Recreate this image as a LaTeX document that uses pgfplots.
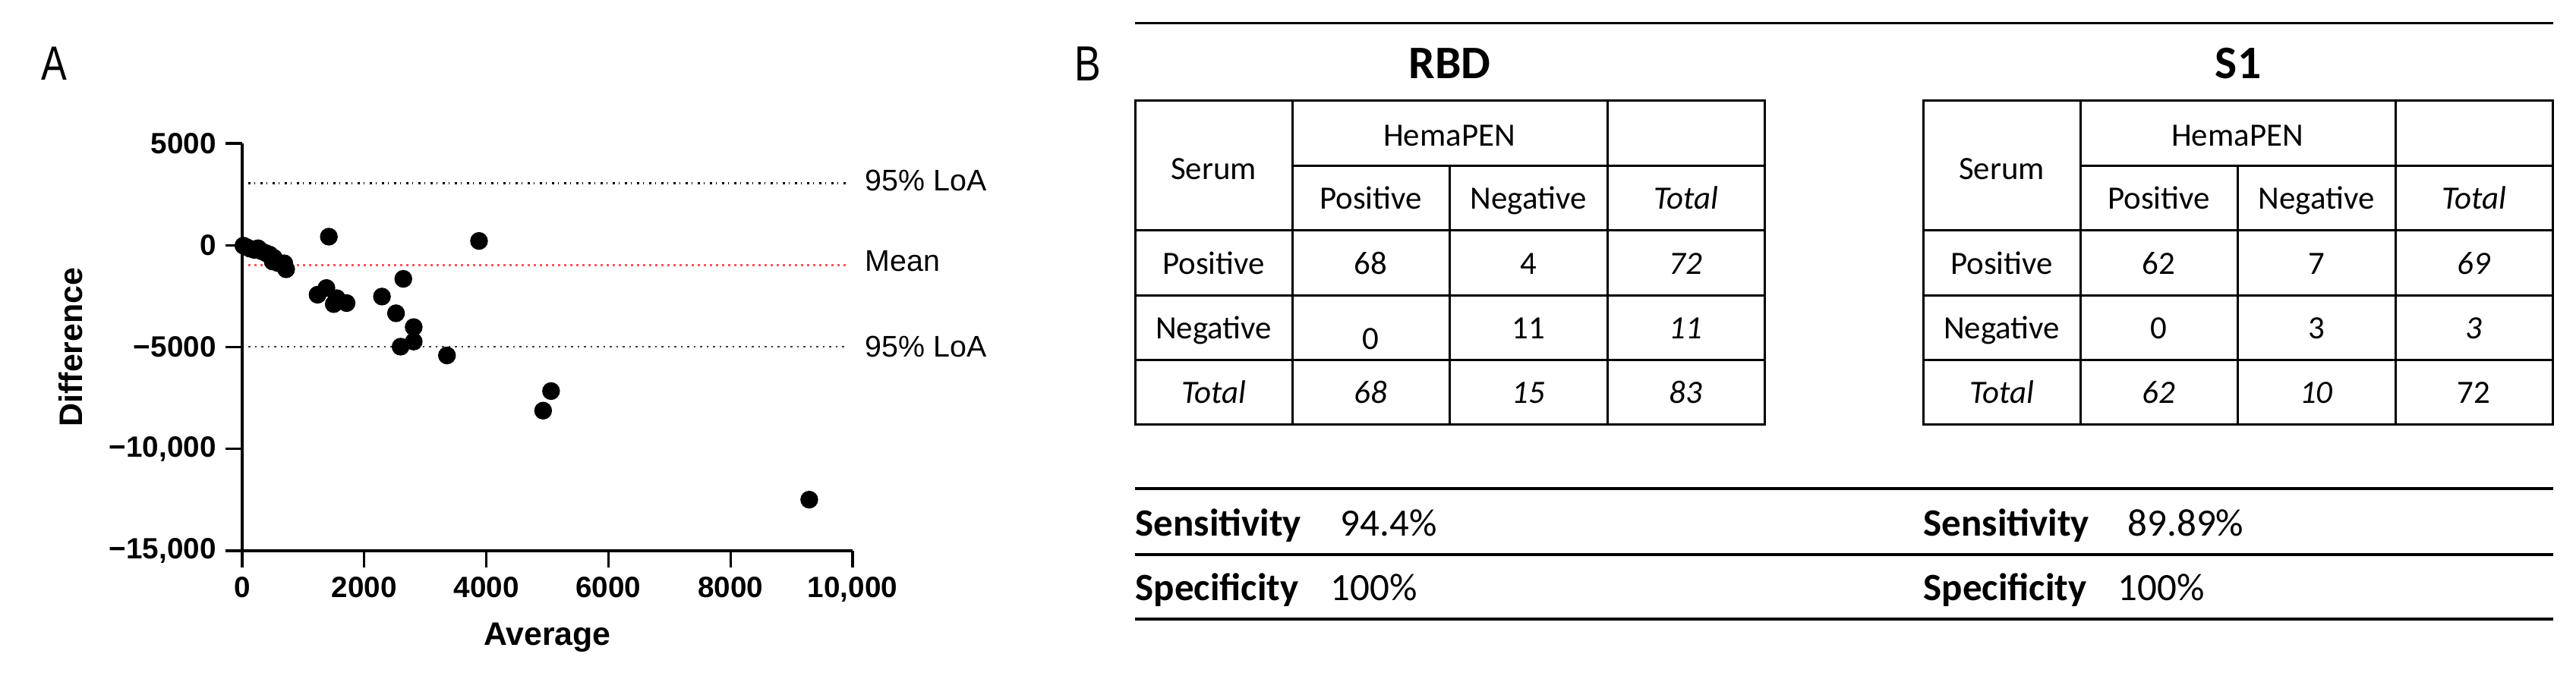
\documentclass[border=0pt]{standalone}
\usepackage{fontspec}
\setmainfont{Carlito}
\newfontfamily\arialf{Liberation Sans}
\newfontfamily\narrowf[FakeStretch=0.8]{Liberation Sans}
\usepackage{pgfplots}
\pgfplotsset{compat=1.18}
\definecolor{meanred}{RGB}{255,85,95}
\definecolor{loagrey}{RGB}{60,60,60}

\pgfplotstableread{
x y
20 -20
70 -90
130 -170
200 -230
260 -150
320 -300
390 -390
450 -460
520 -620
500 -800
590 -880
690 -890
720 -1180
1420 420
3880 210
2640 -1650
1235 -2430
1380 -2100
1500 -2890
1550 -2600
1710 -2840
2290 -2520
2520 -3340
2810 -4020
2810 -4730
2595 -4980
3355 -5410
5060 -7160
4930 -8120
9290 -12490
}\bapoints

\newcommand\tfont{\fontsize{12.2}{14}\selectfont}
\newcommand\tablegrid{%
  \draw[line width=0.3mm] (0,133) rectangle (829,560);
  \draw[line width=0.3mm] (207,219) -- (829,219);
  \foreach \yy in {304,390,475} {\draw[line width=0.3mm] (0,\yy) -- (829,\yy);}
  \draw[line width=0.3mm] (207,133) -- (207,560) (622,133) -- (622,560) (414,219) -- (414,560);
  \node[anchor=base, inner sep=0, font=\tfont] at (103.5,237) {Serum};
  \node[anchor=base, inner sep=0, font=\tfont] at (414,193) {HemaPEN};
  \node[anchor=base, inner sep=0, font=\tfont] at (310.5,276) {Positive};
  \node[anchor=base, inner sep=0, font=\tfont] at (518,276) {Negative};
  \node[anchor=base, inner sep=0, font=\tfont\itshape] at (725.5,276) {Total};
  \node[anchor=base, inner sep=0, font=\tfont] at (103.5,362) {Positive};
  \node[anchor=base, inner sep=0, font=\tfont] at (103.5,447) {Negative};
  \node[anchor=base, inner sep=0, font=\tfont\itshape] at (103.5,532) {Total};
}
\newcommand\cells[9]{%
  \node[anchor=base, inner sep=0, font=\tfont] at (310.5,362) {#1};
  \node[anchor=base, inner sep=0, font=\tfont] at (518,362) {#2};
  \node[anchor=base, inner sep=0, font=\tfont] at (725.5,362) {#3};
  \node[anchor=base, inner sep=0, font=\tfont] at (310.5,447) {#4};
  \node[anchor=base, inner sep=0, font=\tfont] at (518,447) {#5};
  \node[anchor=base, inner sep=0, font=\tfont] at (725.5,447) {#6};
  \node[anchor=base, inner sep=0, font=\tfont] at (310.5,532) {#7};
  \node[anchor=base, inner sep=0, font=\tfont] at (518,532) {#8};
  \node[anchor=base, inner sep=0, font=\tfont] at (725.5,532) {#9};
}

\begin{document}
\begin{tikzpicture}
\path[use as bounding box] (0,0) rectangle (339.3mm,89.5mm);
\begin{axis}[
  at={(31.9mm,16.9mm)}, anchor=south west,
  scale only axis, width=80.4mm, height=53.7mm,
  xmin=0, xmax=10000, ymin=-15000, ymax=5000,
  axis x line=bottom, axis y line=left,
  axis line style={line width=0.33mm, -},
  x axis line style={-}, y axis line style={-},
  xtick={0,2000,4000,6000,8000,10000},
  xticklabels={0,2000,4000,6000,8000,{10,000}},
  ytick={-15000,-10000,-5000,0,5000},
  yticklabels={{−15,000},{−10,000},−5000,0,5000},
  tick align=outside,
  major tick length=2.2mm,
  every tick/.style={black, line width=0.33mm},
  ticklabel style={font=\arialf\bfseries\fontsize{11}{13}\selectfont},
  xlabel={Average}, ylabel={Difference},
  label style={font=\arialf\bfseries\fontsize{12.2}{14}\selectfont},
  xlabel style={at={(axis description cs:0.5,-0.212)}, anchor=center},
  ylabel style={at={(axis description cs:-0.281,0.5)}, anchor=center},
  clip=false,
  scaled ticks=false,
]
\addplot[black, line width=0.28mm, dash pattern=on 0.3mm off 0.5mm on 0.1mm off 0.7mm] coordinates {(100,3050) (9920,3050)};
\addplot[meanred, line width=0.25mm, dash pattern=on 0.25mm off 0.55mm] coordinates {(100,-970) (9920,-970)};
\addplot[loagrey, line width=0.22mm, dash pattern=on 0.25mm off 0.6mm] coordinates {(100,-4990) (9920,-4990)};
\addplot[only marks, mark=*, mark size=1.1mm, black] table {\bapoints};
\node[anchor=west, inner sep=0, font=\arialf\fontsize{11.2}{13}\selectfont, yshift=0.3mm] at (axis cs:10200,3050) {95\% LoA};
\node[anchor=west, inner sep=0, font=\arialf\fontsize{11.2}{13}\selectfont, yshift=0.5mm] at (axis cs:10200,-970) {Mean};
\node[anchor=west, inner sep=0, font=\arialf\fontsize{11.2}{13}\selectfont] at (axis cs:10200,-4990) {95\% LoA};
\end{axis}
\begin{scope}[x=0.1mm, y=-0.1mm, shift={(0mm,89.5mm)}]
  \node[anchor=base west, inner sep=0, font=\narrowf\fontsize{18}{20}\selectfont] at (54,106) {A};
  \node[anchor=base west, inner sep=0, font=\narrowf\fontsize{18.5}{20}\selectfont] at (1415,107) {B};
  \draw[line width=0.3mm] (1495,31) -- (3363,31);
  \node[anchor=base, inner sep=0, font=\fontsize{17.5}{20}\selectfont\bfseries] at (1909.5,104) {RBD};
  \node[anchor=base, inner sep=0, font=\fontsize{17.5}{20}\selectfont\bfseries] at (2948,104) {S1};
  \begin{scope}[shift={(1495,0)}]
    \tablegrid
    \cells{68}{4}{\textit{72}}{\raisebox{-1.4mm}{0}}{11}{\textit{11}}{\textit{68}}{\textit{15}}{\textit{83}}
  \end{scope}
  \begin{scope}[shift={(2533,0)}]
    \tablegrid
    \cells{62}{7}{\textit{69}}{0}{3}{\textit{3}}{\textit{62}}{\textit{10}}{72}
  \end{scope}
  \foreach \yy in {644,731,816} {\draw[line width=0.35mm] (1495,\yy) -- (3363,\yy);}
  \node[anchor=base west, inner sep=0, font=\fontsize{14.5}{17}\selectfont\bfseries] at (1495,707) {Sensitivity};
  \node[anchor=base west, inner sep=0, font=\fontsize{14.5}{17}\selectfont] at (1765,707) {94.4\%};
  \node[anchor=base west, inner sep=0, font=\fontsize{14.5}{17}\selectfont\bfseries] at (1495,792) {Specificity};
  \node[anchor=base west, inner sep=0, font=\fontsize{14.5}{17}\selectfont] at (1752,792) {100\%};
  \node[anchor=base west, inner sep=0, font=\fontsize{14.5}{17}\selectfont\bfseries] at (2533,707) {Sensitivity};
  \node[anchor=base west, inner sep=0, font=\fontsize{14.5}{17}\selectfont] at (2802,707) {89.89\%};
  \node[anchor=base west, inner sep=0, font=\fontsize{14.5}{17}\selectfont\bfseries] at (2533,792) {Specificity};
  \node[anchor=base west, inner sep=0, font=\fontsize{14.5}{17}\selectfont] at (2789,792) {100\%};
\end{scope}
\end{tikzpicture}
\end{document}
